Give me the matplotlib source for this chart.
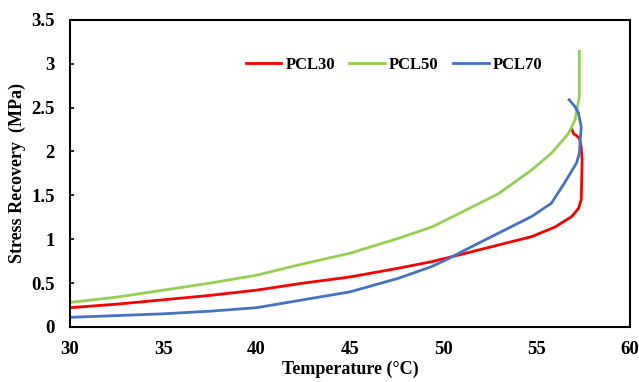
import matplotlib
matplotlib.use('Agg')
import matplotlib.pyplot as plt

# Data (temperature in C, stress recovery in MPa)
pcl30_t = [30, 32.5, 35, 37.5, 40, 42.5, 45, 47.6, 49.4, 51.2, 52.97, 54.75, 56.0, 56.9, 57.25, 57.4, 57.45, 57.4, 57.3, 57.15, 57.0, 56.9]
pcl30_s = [0.22, 0.26, 0.31, 0.36, 0.42, 0.50, 0.57, 0.67, 0.745, 0.84, 0.935, 1.03, 1.14, 1.26, 1.35, 1.45, 1.9, 2.05, 2.15, 2.18, 2.2, 2.25]

pcl50_t = [30, 32.5, 35, 37.5, 40, 42.5, 45, 47.6, 49.4, 51.2, 52.97, 54.75, 55.8, 56.7, 57.07, 57.3, 57.3]
pcl50_s = [0.28, 0.34, 0.42, 0.50, 0.59, 0.72, 0.84, 1.01, 1.14, 1.33, 1.52, 1.79, 1.98, 2.2, 2.36, 2.63, 3.14]

pcl70_t = [30, 32.5, 35, 37.5, 40, 42.5, 45, 47.6, 49.4, 50.3, 51.2, 52.97, 54.75, 55.8, 56.5, 57.15, 57.3, 57.4, 57.25, 57.07, 56.75]
pcl70_s = [0.11, 0.13, 0.15, 0.18, 0.22, 0.31, 0.40, 0.555, 0.69, 0.78, 0.88, 1.07, 1.26, 1.41, 1.64, 1.87, 1.98, 2.28, 2.44, 2.51, 2.59]

plt.rcParams['font.family'] = ['Liberation Serif', 'DejaVu Serif']
plt.rcParams['font.weight'] = 'bold'

fig = plt.figure(figsize=(6.39, 3.82), dpi=100)
ax = fig.add_axes([0.1095, 0.144, 0.876, 0.804])

ax.plot(pcl30_t, pcl30_s, color='#ff0000', lw=2.0, label='PCL30')
ax.plot(pcl50_t, pcl50_s, color='#92d050', lw=2.0, label='PCL50')
ax.plot(pcl70_t, pcl70_s, color='#4472c4', lw=2.0, label='PCL70')

ax.set_xlim(30, 60)
ax.set_ylim(0, 3.5)
ax.set_xticks([30, 35, 40, 45, 50, 55, 60])
ax.set_yticks([0, 0.5, 1, 1.5, 2, 2.5, 3, 3.5])
ax.set_yticklabels(['0', '0.5', '1', '1.5', '2', '2.5', '3', '3.5'])
ax.tick_params(axis='both', labelsize=13.5, direction='in', length=3, width=1.2)
ax.tick_params(axis='x', length=0, pad=10)
ax.tick_params(axis='y', pad=11)
for lab in ax.get_xticklabels() + ax.get_yticklabels():
    lab.set_fontweight('bold')
for sp in ax.spines.values():
    sp.set_linewidth(1.5)
    sp.set_color('black')

ax.set_xlabel('Temperature (°C)', fontsize=13, fontweight='bold', labelpad=2)
ax.set_ylabel('Stress Recovery  (MPa)', fontsize=13, fontweight='bold', labelpad=4)

ax.legend(loc='center', bbox_to_anchor=(0.579, 0.853), ncol=3, frameon=False,
          handlelength=2.15, columnspacing=0.84, handletextpad=0.25,
          prop={'weight': 'bold', 'size': 12})

fig.savefig('out.png', dpi=100)
